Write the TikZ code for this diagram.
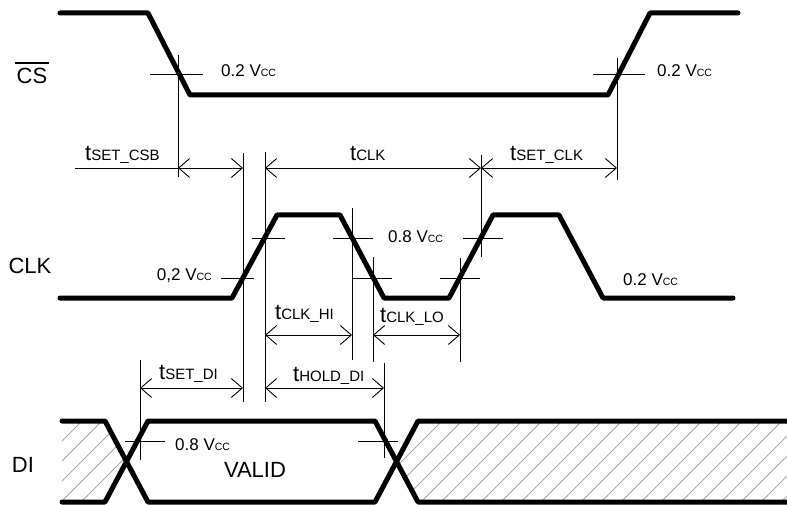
\documentclass[tikz,border=0pt]{standalone}
\usepackage{fontspec}
\setmainfont{Liberation Sans}
\usetikzlibrary{arrows.meta}
\newcommand{\tname}[1]{{\fontsize{22}{24}\selectfont t}{\fontsize{15}{16}\selectfont #1}}
\newcommand{\vcc}[1]{#1 V{\fontsize{10.5}{11}\selectfont CC}}
\begin{document}
\begin{tikzpicture}[x=1pt,y=-1pt]

    \tikzset{
      wave/.style={
        line width=5pt,
        line cap=round,
        line join=round,
      },
      guide/.style={line width=0.9pt},
      dim/.style={
        guide,
        {Straight Barb[length=11pt,width=19pt]}-{Straight Barb[length=11pt,width=19pt]},
      },
      hatch/.style={line width=0.8pt, draw=black!35},
      sig/.style={font=\fontsize{22}{26}\selectfont, inner sep=0pt},
      lvl/.style={font=\fontsize{17}{19}\selectfont, inner sep=0pt, anchor=base west},
      tlbl/.style={inner sep=0pt, anchor=base west},
    }
    \useasboundingbox (0,0) rectangle (787,505);

    % hatched (invalid) parts of DI
    \begin{scope}
      \clip (62,423)--(105,423)--(126,462)--(105,501)--(62,501)--cycle;
      \foreach \k in {-100,-80,...,200} \draw[hatch] (\k,503)--++(82,-82);
    \end{scope}
    \begin{scope}
      \clip (398,462)--(420,423)--(787,423)--(787,501)--(420,501)--cycle;
      \foreach \k in {300,320,...,800} \draw[hatch] (\k,503)--++(82,-82);
    \end{scope}

    % waveforms
    \draw[wave] (60,13)--(148,13)--(190,95)--(608,95)--(650,13)--(738,13);
    \draw[wave] (60,298)--(232,298)--(277,215)--(340,215)--(384,298)--(449,298)--(493,215)--(559,215)--(603,298)--(733,298);
    \draw[wave] (62,421)--(105,421)--(148,502)--(375,502)--(418,421)--(787,421);
    \draw[wave] (62,502)--(105,502)--(148,421)--(375,421)--(418,502)--(787,502);

    % signal names
    \node[sig] (cs) at (32,76) {CS};
    \draw[line width=1.3pt] ([xshift=-1.5pt,yshift=5pt]cs.north west)--([xshift=1.5pt,yshift=5pt]cs.north east);
    \node[sig] (clk) at (30,266) {CLK};
    \node[sig] (di) at (23,465) {DI};
    \node[sig,anchor=base] (valid) at (255,477) {VALID};

    % level marks
    \draw[guide] (150,74)--(203,74);
    \draw[guide] (593,74)--(645,74);
    \draw[guide] (221,278)--(254,278);
    \draw[guide] (353,278)--(392,278);
    \draw[guide] (440,278)--(480,278);
    \draw[guide] (252,238)--(285,238);
    \draw[guide] (333,238)--(373,238);
    \draw[guide] (463,238)--(503,238);
    \draw[guide] (125,441)--(165,441);
    \draw[guide] (358,441)--(398,441);

    \node[lvl] (lv1) at (221,77) {\vcc{0.2}};
    \node[lvl] (lv2) at (657,77) {\vcc{0.2}};
    \node[lvl,anchor=base east] (lv3) at (212,280) {\vcc{0,2}};
    \node[lvl] (lv4) at (388,243) {\vcc{0.8}};
    \node[lvl] (lv5) at (623,285) {\vcc{0.2}};
    \node[lvl] (lv6) at (175,450) {\vcc{0.8}};

    % extension lines
    \draw[guide] (178,55)--(178,177);
    \draw[guide] (617,58)--(617,180);
    \draw[guide] (243,153)--(243,402);
    \draw[guide] (265,152)--(265,402);
    \draw[guide] (481,155)--(481,257);
    \draw[guide] (352,208)--(352,360);
    \draw[guide] (373,257)--(373,362);
    \draw[guide] (460,258)--(460,362);
    \draw[guide] (140,360)--(140,460);
    \draw[guide] (384,363)--(384,458);

    % timings
    \draw[guide] (75,168)--(178,168);
    \draw[dim] (178,168)--(243,168);
    \draw[dim] (265,168)--(481,168);
    \draw[dim] (481,168)--(617,168);
    \draw[dim] (265,335)--(352,335);
    \draw[dim] (373,335)--(460,335);
    \draw[dim] (140,388)--(243,388);
    \draw[dim] (265,388)--(384,388);

    \node[tlbl] (tsetcsb) at (85,161) {\tname{SET\_CSB}};
    \node[tlbl] (tclk) at (350,161) {\tname{CLK}};
    \node[tlbl] (tsetclk) at (510,161) {\tname{SET\_CLK}};
    \node[tlbl] (tclkhi) at (275,319) {\tname{CLK\_HI}};
    \node[tlbl] (tclklo) at (380,322) {\tname{CLK\_LO}};
    \node[tlbl] (tsetdi) at (159,379) {\tname{SET\_DI}};
    \node[tlbl] (tholddi) at (293,381) {\tname{HOLD\_DI}};

\end{tikzpicture}
\end{document}
